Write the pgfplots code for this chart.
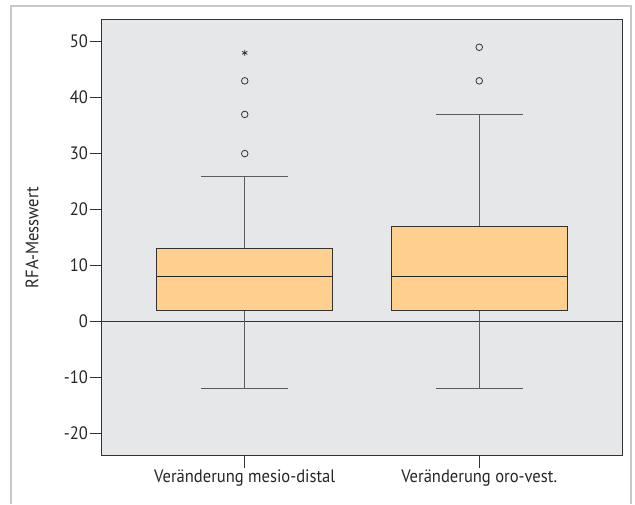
\documentclass[border=0pt]{standalone}
\usepackage{fontspec}
\setmainfont{PT Sans}[FakeStretch=0.92]
\usepackage{pgfplots}
\pgfplotsset{compat=1.18}
\usepgfplotslibrary{statistics}
\definecolor{bgc}{HTML}{E6E7E9}
\definecolor{boxc}{HTML}{FFCF8E}
\definecolor{linec}{HTML}{333333}
\definecolor{framec}{HTML}{C8C8C8}
\begin{document}
\begin{tikzpicture}
\useasboundingbox (0pt,0pt) rectangle (635pt,504pt);
\draw[color=framec, line width=1.2pt] (11pt,0pt) -- (11pt,498pt) -- (631pt,498pt) -- (631pt,0pt);
\begin{axis}[
  at={(101.7pt,48.3pt)}, anchor=south west,
  scale only axis, width=520.6pt, height=436.4pt,
  xmin=0.39, xmax=2.61, ymin=-24, ymax=54,
  axis background/.style={fill=bgc},
  axis line style={draw=linec, line width=0.9pt},
  xtick={1,2},
  xticklabels={Veränderung mesio-distal, Veränderung oro-vest.},
  ytick={-20,-10,0,10,20,30,40,50},
  xtick pos=left, ytick pos=left,
  tick align=outside,
  major tick length=12pt,
  tick style={draw=linec, line width=0.9pt},
  /pgf/number format/assume math mode=true,
  ticklabel style={font=\fontsize{18}{21}\selectfont, text=black!85},
  yticklabel style={inner xsep=1.5pt},
  xticklabel style={inner ysep=2pt},
  ylabel={RFA-Messwert},
  every axis y label/.style={at={(rel axis cs:0,0.5)}, xshift=-69.7pt, rotate=90, anchor=center, font=\fontsize{18}{21}\selectfont, text=black!85},
  boxplot/draw direction=y,
  boxplot/box extend=0.75,
  boxplot/whisker extend=0.37,
  boxplot/every box/.style={draw=linec, fill=boxc, line width=0.9pt},
  boxplot/every median/.style={draw=black!85, line width=1.6pt},
  boxplot/every whisker/.style={draw=linec!80, line width=0.9pt},
  clip=false,
]
\addplot[draw=linec, line width=0.9pt] coordinates {(0.39,0) (2.61,0)};
\addplot[boxplot prepared={draw position=1, lower whisker=-12, lower quartile=2, median=8, upper quartile=13, upper whisker=26},
  mark=o, mark size=3.3pt, mark options={draw=linec, line width=0.8pt}]
  table[row sep=\\, y index=0] {data\\ 30\\ 37\\ 43\\};
\addplot[boxplot prepared={draw position=2, lower whisker=-12, lower quartile=2, median=8, upper quartile=17, upper whisker=37},
  mark=o, mark size=3.3pt, mark options={draw=linec, line width=0.8pt}]
  table[row sep=\\, y index=0] {data\\ 43\\ 49\\};
\addplot[only marks, mark=asterisk, mark size=3pt, mark options={draw=linec, line width=0.8pt}] coordinates {(1,48)};
\end{axis}
\end{tikzpicture}
\end{document}
